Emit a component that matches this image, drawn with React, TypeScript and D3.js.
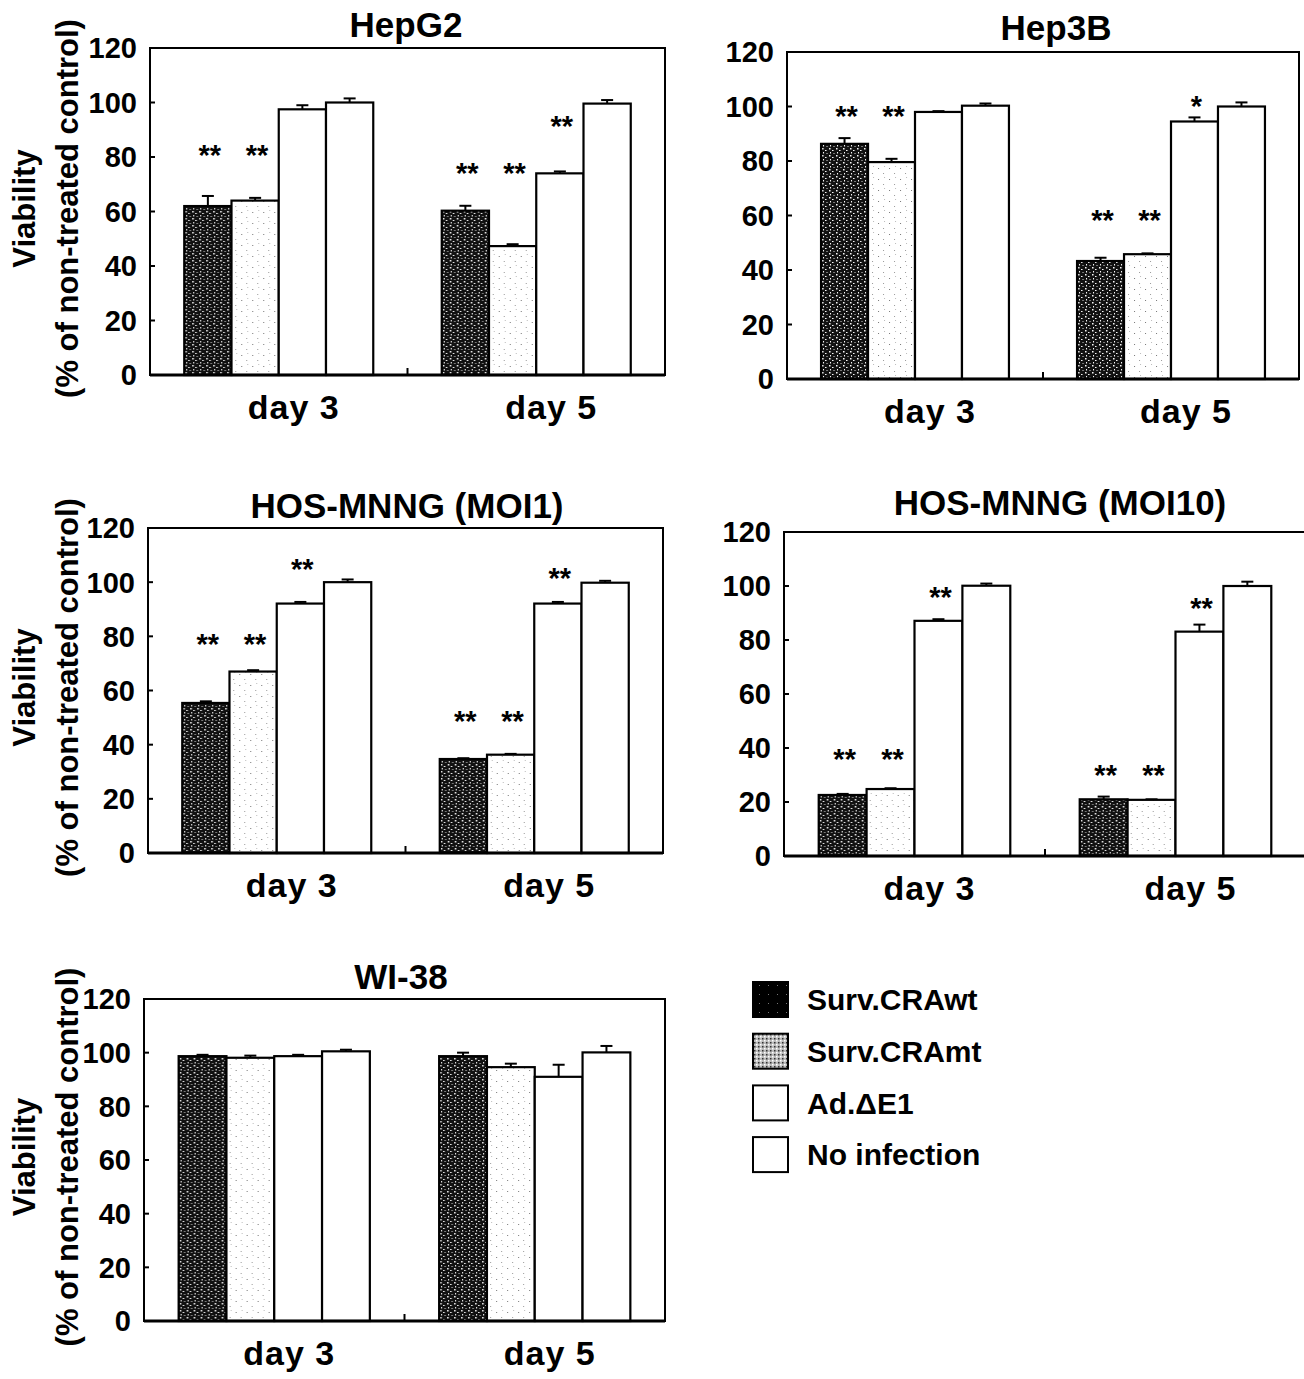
import React from "react"
import * as d3 from "d3"

const CATEGORIES = ["day 3", "day 5"]
const SERIES = ["Surv.CRAwt", "Surv.CRAmt", "Ad.\u0394E1", "No infection"]
const Y_TICKS = [0, 20, 40, 60, 80, 100, 120]

// values per category: [wt, mt, dE1, none]
const HEPG2_VALUES = [[62, 64, 97.5, 100], [60.3, 47.3, 74, 99.6]]
const HEPG2_ERR = [[3.7, 1.0, 1.5, 1.5], [1.8, 0.7, 0.7, 1.3]]
const HEPG2_STARS = [[0, 0, "**", 83], [0, 1, "**", 83], [1, 0, "**", 76.4], [1, 1, "**", 76.4], [1, 2, "**", 93.5]]

const HEP3B_VALUES = [[86.3, 79.6, 98, 100.3], [43.3, 45.8, 94.5, 100]]
const HEP3B_ERR = [[2.1, 1.2, 0.3, 0.8], [1.2, 0.3, 1.5, 1.5]]
const HEP3B_STARS = [[0, 0, "**", 98.6], [0, 1, "**", 98.6], [1, 0, "**", 60.5], [1, 1, "**", 60.5], [1, 2, "*", 102.3]]

const MOI1_VALUES = [[55.4, 67, 92.1, 100], [34.7, 36.3, 92.1, 99.8]]
const MOI1_ERR = [[0.6, 0.5, 0.6, 1.0], [0.3, 0.3, 0.6, 0.7]]
const MOI1_STARS = [[0, 0, "**", 79.4], [0, 1, "**", 79.4], [0, 2, "**", 107.2], [1, 0, "**", 51], [1, 1, "**", 51], [1, 2, "**", 103.7]]

const MOI10_VALUES = [[22.6, 24.8, 87.1, 100.1], [21, 20.8, 83.1, 100]]
const MOI10_ERR = [[0.4, 0.3, 0.6, 0.8], [1.0, 0.2, 2.6, 1.6]]
const MOI10_STARS = [[0, 0, "**", 38.2], [0, 1, "**", 38.2], [0, 2, "**", 98.1], [1, 0, "**", 32.2], [1, 1, "**", 32.2], [1, 2, "**", 94.2]]

const WI38_VALUES = [[98.7, 98.1, 98.7, 100.5], [98.7, 94.6, 91, 100.1]]
const WI38_ERR = [[0.5, 0.8, 0.5, 0.6], [1.3, 1.3, 4.5, 2.4]]
const WI38_STARS = []

const FONT = "'Liberation Sans', Arial, Helvetica, sans-serif"

// plot boxes in page pixels
const PANELS = [
  { title: "HepG2", values: HEPG2_VALUES, err: HEPG2_ERR, stars: HEPG2_STARS, left: 150, right: 665, top: 48, bottom: 375, titleX: 406, titleY: 37, yLabel: true },
  { title: "Hep3B", values: HEP3B_VALUES, err: HEP3B_ERR, stars: HEP3B_STARS, left: 787, right: 1299, top: 52, bottom: 379, titleX: 1056, titleY: 40, yLabel: false },
  { title: "HOS-MNNG (MOI1)", values: MOI1_VALUES, err: MOI1_ERR, stars: MOI1_STARS, left: 148, right: 663, top: 528, bottom: 853, titleX: 407, titleY: 518, yLabel: true },
  { title: "HOS-MNNG (MOI10)", values: MOI10_VALUES, err: MOI10_ERR, stars: MOI10_STARS, left: 784, right: 1306, top: 532, bottom: 856, titleX: 1060, titleY: 515, yLabel: false },
  { title: "WI-38", values: WI38_VALUES, err: WI38_ERR, stars: WI38_STARS, left: 144, right: 665, top: 999, bottom: 1321, titleX: 401, titleY: 989, yLabel: true },
]

const FILLS = ["url(#wtFill)", "url(#mtFill)", "#fff", "#fff"]

const Panel = ({ p }) => {
  const y = d3.scaleLinear().domain([0, 120]).range([p.bottom, p.top])
  const x0 = d3.scaleBand().domain(CATEGORIES).range([p.left, p.right]).paddingInner(0.266).paddingOuter(0.133)
  const x1 = d3.scaleBand().domain(d3.range(SERIES.length)).range([0, x0.bandwidth()])
  const step = x0.step()
  const cy = (p.top + p.bottom) / 2

  return (
    <g>
      <text x={p.titleX} y={p.titleY} textAnchor="middle" fontSize={35} fontWeight="bold">{p.title}</text>

      {p.yLabel && (
        <g transform={`translate(0,${cy - 3}) rotate(-90)`}>
          <text x={0} y={35} textAnchor="middle" fontSize={31} fontWeight="bold">Viability</text>
          <text x={0} y={78} textAnchor="middle" fontSize={31} fontWeight="bold">(% of non-treated control)</text>
        </g>
      )}

      {/* bars */}
      {CATEGORIES.map((c, ci) => (
        <g key={c} transform={`translate(${x0(c)},0)`}>
          {p.values[ci].map((v, si) => {
            const bx = x1(si)
            const bw = x1.bandwidth()
            const top = y(v)
            const et = y(v + p.err[ci][si])
            const mx = bx + bw / 2
            return (
              <g key={si}>
                <line x1={mx} x2={mx} y1={top} y2={et} stroke="#000" strokeWidth={2} />
                <line x1={mx - 6} x2={mx + 6} y1={et} y2={et} stroke="#000" strokeWidth={2} />
                <rect x={bx} y={top} width={bw} height={p.bottom - top} fill={FILLS[si]} stroke="#000" strokeWidth={2.2} />
              </g>
            )
          })}
        </g>
      ))}

      {/* significance marks */}
      {p.stars.map(([ci, si, label, v], i) => (
        <text key={i} x={x0(CATEGORIES[ci]) + x1(si) + x1.bandwidth() / 2 + 2} y={y(v) + 16} textAnchor="middle" fontSize={29} fontWeight="bold">{label}</text>
      ))}

      {/* frame */}
      <rect x={p.left} y={p.top} width={p.right - p.left} height={p.bottom - p.top} fill="none" stroke="#000" strokeWidth={2} />
      <line x1={p.left} x2={p.right} y1={p.bottom} y2={p.bottom} stroke="#000" strokeWidth={3} />

      {/* y ticks */}
      {Y_TICKS.map(t => (
        <g key={t}>
          <line x1={p.left} x2={p.left + 5} y1={y(t)} y2={y(t)} stroke="#000" strokeWidth={2} />
          <text x={p.left - 13} y={y(t)} dy="0.36em" textAnchor="end" fontSize={29} fontWeight="bold">{t}</text>
        </g>
      ))}

      {/* x ticks between categories */}
      <line x1={p.left + step} x2={p.left + step} y1={p.bottom} y2={p.bottom - 7} stroke="#000" strokeWidth={2} />
      {CATEGORIES.map(c => (
        <text key={c} x={x0(c) + x0.bandwidth() / 2 + 15} y={p.bottom + 44} textAnchor="middle" fontSize={34} fontWeight="bold" letterSpacing={1}>{c}</text>
      ))}
    </g>
  )
}

const LEGEND_FILLS = ["url(#wtLegend)", "url(#mtLegend)", "#fff", "#fff"]

export default function App() {
  return (
    <svg width={1304} height={1379} style={{ position: "absolute", left: 0, top: 0, background: "#fff" }} fontFamily={FONT}>
      <defs>
        <pattern id="wtFill" width="7" height="7" patternUnits="userSpaceOnUse">
          <rect width="7" height="7" fill="#111" />
          <rect x="1" y="1" width="1.5" height="1.5" fill="#fff" />
          <rect x="4" y="3" width="1.5" height="1" fill="#fff" />
          <rect x="2" y="5" width="1" height="1.5" fill="#fff" />
          <rect x="5.5" y="6" width="1" height="1" fill="#ddd" />
        </pattern>
        <pattern id="mtFill" width="11" height="11" patternUnits="userSpaceOnUse">
          <rect width="11" height="11" fill="#fff" />
          <rect x="2" y="3" width="1" height="1" fill="#777" />
          <rect x="7" y="8" width="1" height="1" fill="#999" />
          <rect x="8" y="1" width="1" height="1" fill="#bbb" />
        </pattern>
        <pattern id="wtLegend" width="9" height="9" patternUnits="userSpaceOnUse">
          <rect width="9" height="9" fill="#000" />
          <rect x="3" y="4" width="1" height="1" fill="#777" />
        </pattern>
        <pattern id="mtLegend" width="4" height="4" patternUnits="userSpaceOnUse">
          <rect width="4" height="4" fill="#bbb" />
          <rect x="0" y="0" width="1.5" height="1.5" fill="#fff" />
          <rect x="2" y="2" width="1.5" height="1.5" fill="#333" />
        </pattern>
      </defs>

      {PANELS.map(p => <Panel key={p.title} p={p} />)}

      {/* legend */}
      {SERIES.map((s, i) => {
        const ly = 982 + i * 51.7
        return (
          <g key={s}>
            <rect x={753} y={ly} width={35} height={35} fill={LEGEND_FILLS[i]} stroke="#000" strokeWidth={2} />
            <text x={807} y={ly + 17.5} dy="0.36em" fontSize={30} fontWeight="bold">{s}</text>
          </g>
        )
      })}
    </svg>
  )
}
